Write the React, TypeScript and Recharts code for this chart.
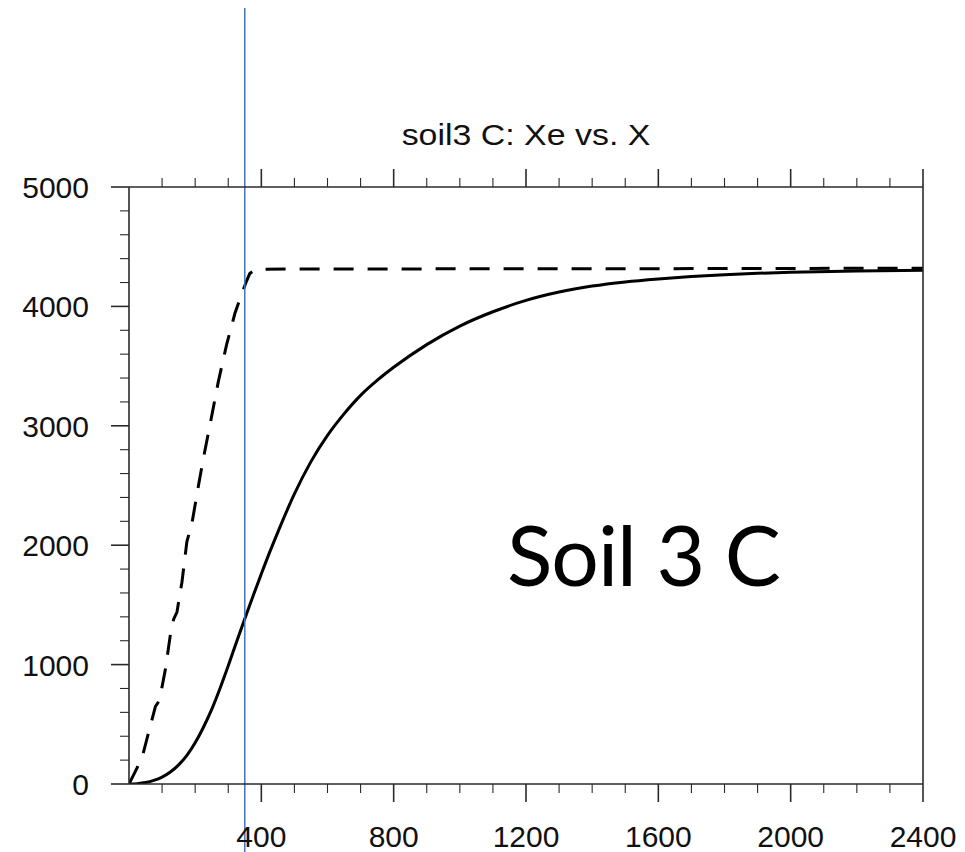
import React from "react";
import {
  LineChart,
  Line,
  XAxis,
  YAxis,
  ReferenceLine,
} from "recharts";

// soil3 C pool: equilibrium estimate (dashed) vs. simulated pool (solid)
const xeYears = [0, 20, 40, 60, 80, 92, 110, 125, 135, 145, 160, 175, 190, 210, 225, 245, 270, 295, 320, 340, 355, 365, 380, 400, 800, 1200, 1600, 2000, 2400];
const xeValues = [0, 110, 225, 440, 650, 700, 960, 1250, 1380, 1440, 1690, 2030, 2180, 2500, 2730, 3010, 3370, 3680, 3940, 4100, 4210, 4275, 4305, 4312, 4314, 4315, 4316, 4318, 4320];

const xYears = [0, 25, 50, 75, 100, 125, 150, 175, 200, 225, 250, 275, 300, 325, 350, 375, 400, 425, 450, 500, 550, 600, 650, 700, 750, 800, 900, 1000, 1100, 1200, 1300, 1400, 1500, 1600, 1700, 1800, 1900, 2000, 2200, 2400];
const xValues = [0, 3, 12, 30, 58, 100, 160, 240, 345, 475, 625, 800, 990, 1190, 1385, 1575, 1760, 1940, 2110, 2430, 2700, 2920, 3100, 3255, 3380, 3490, 3680, 3835, 3955, 4050, 4120, 4170, 4205, 4230, 4250, 4265, 4277, 4286, 4297, 4303];

const xMajorTicks = [400, 800, 1200, 1600, 2000, 2400];
const xMinorTicks = [100, 200, 300, 500, 600, 700, 900, 1000, 1100, 1300, 1400, 1500, 1700, 1800, 1900, 2100, 2200, 2300];
const yMajorTicks = [0, 1000, 2000, 3000, 4000, 5000];
const yMinorTicks = [200, 400, 600, 800, 1200, 1400, 1600, 1800, 2200, 2400, 2600, 2800, 3200, 3400, 3600, 3800, 4200, 4400, 4600, 4800];

const markerYear = 350;

// merge both series onto one x grid
const rows = (() => {
  const all = Array.from(new Set([...xeYears, ...xYears])).sort((a, b) => a - b);
  return all.map((yr) => {
    const i = xeYears.indexOf(yr);
    const j = xYears.indexOf(yr);
    return {
      yr,
      xe: i >= 0 ? xeValues[i] : null,
      x: j >= 0 ? xValues[j] : null,
    };
  });
})();

const FONT = "'Liberation Sans', Arial, Helvetica, sans-serif";
const AXIS = "#2a2a2a";
const MAJOR = 18;
const MINOR = 9;

const isMajor = (v: number, list: number[]) => list.includes(v);

const BottomTick = ({ x, y, payload }: any) => {
  const major = isMajor(payload.value, xMajorTicks);
  return (
    <g>
      <line x1={x} x2={x} y1={y} y2={y + (major ? MAJOR : MINOR)} stroke={AXIS} strokeWidth={major ? 1.6 : 1.1} />
      {major && (
        <text x={x} y={y + 63} textAnchor="middle" fontFamily={FONT} fontSize={30} fill="#111">
          {payload.value}
        </text>
      )}
    </g>
  );
};

const TopTick = ({ x, y, payload }: any) => {
  const major = isMajor(payload.value, xMajorTicks);
  return <line x1={x} x2={x} y1={y} y2={y - (major ? MAJOR : MINOR)} stroke={AXIS} strokeWidth={major ? 1.6 : 1.1} />;
};

const LeftTick = ({ x, y, payload }: any) => {
  const major = isMajor(payload.value, yMajorTicks);
  return (
    <g>
      <line x1={x} x2={x - (major ? MAJOR : MINOR)} y1={y} y2={y} stroke={AXIS} strokeWidth={major ? 1.6 : 1.1} />
      {major && (
        <text x={x - 40} y={y + 11} textAnchor="end" fontFamily={FONT} fontSize={30} fill="#111">
          {payload.value}
        </text>
      )}
    </g>
  );
};

const RightTick = ({ x, y, payload }: any) => {
  const major = isMajor(payload.value, yMajorTicks);
  return <line x1={x} x2={x + (major ? MAJOR : MINOR)} y1={y} y2={y} stroke={AXIS} strokeWidth={major ? 1.6 : 1.1} />;
};

export default function App() {
  const xTicks = [...xMinorTicks, ...xMajorTicks].sort((a, b) => a - b);
  const yTicks = [...yMinorTicks, ...yMajorTicks].sort((a, b) => a - b);

  return (
    <div style={{ position: "absolute", left: 0, top: 0, width: 965, height: 852, background: "#fff", overflow: "hidden" }}>
      <div
        style={{
          position: "absolute",
          left: 129,
          width: 794,
          top: 118,
          textAlign: "center",
          fontFamily: FONT,
          fontSize: 30,
          color: "#111",
          lineHeight: "34px",
          transform: "scaleX(1.13)",
          transformOrigin: "397px 0",
        }}
      >
        soil3 C: Xe vs. X
      </div>
      <LineChart
        width={965}
        height={852}
        data={rows}
        margin={{ top: 157, right: 22, bottom: 28, left: 29 }}
      >
        <XAxis
          xAxisId="bottom"
          dataKey="yr"
          type="number"
          domain={[0, 2400]}
          ticks={xTicks}
          interval={0}
          tickSize={0}
          tickMargin={0}
          tickLine={false}
          tick={<BottomTick />}
          axisLine={{ stroke: AXIS, strokeWidth: 1.6 }}
          height={40}
          allowDataOverflow
        />
        <XAxis
          xAxisId="top"
          orientation="top"
          dataKey="yr"
          type="number"
          domain={[0, 2400]}
          ticks={xTicks}
          interval={0}
          tickSize={0}
          tickMargin={0}
          tickLine={false}
          tick={<TopTick />}
          axisLine={{ stroke: AXIS, strokeWidth: 1.6 }}
          height={30}
        />
        <YAxis
          yAxisId="left"
          type="number"
          domain={[0, 5000]}
          ticks={yTicks}
          interval={0}
          tickSize={0}
          tickMargin={0}
          tickLine={false}
          tick={<LeftTick />}
          axisLine={{ stroke: AXIS, strokeWidth: 1.6 }}
          width={100}
          allowDataOverflow
        />
        <YAxis
          yAxisId="right"
          orientation="right"
          type="number"
          domain={[0, 5000]}
          ticks={yTicks}
          interval={0}
          tickSize={0}
          tickMargin={0}
          tickLine={false}
          tick={<RightTick />}
          axisLine={{ stroke: AXIS, strokeWidth: 1.6 }}
          width={20}
        />
        <Line
          xAxisId="bottom"
          yAxisId="left"
          dataKey="xe"
          type="linear"
          stroke="#000"
          strokeWidth={3}
          strokeDasharray="20 14"
          dot={false}
          connectNulls
          isAnimationActive={false}
        />
        <Line
          xAxisId="bottom"
          yAxisId="left"
          dataKey="x"
          type="monotone"
          stroke="#000"
          strokeWidth={3}
          dot={false}
          connectNulls
          isAnimationActive={false}
        />
        <ReferenceLine
          xAxisId="bottom"
          yAxisId="left"
          segment={[
            { x: markerYear, y: 6500 },
            { x: markerYear, y: -600 },
          ]}
          stroke="#4472C4"
          strokeWidth={1.5}
          ifOverflow="visible"
        />
      </LineChart>
      <div
        style={{
          position: "absolute",
          left: 507,
          top: 502,
          fontFamily: "Lato, 'Open Sans', sans-serif",
          fontSize: 84,
          letterSpacing: -1,
          color: "#000",
          lineHeight: "104px",
          whiteSpace: "nowrap",
        }}
      >
        Soil 3 C
      </div>
    </div>
  );
}
